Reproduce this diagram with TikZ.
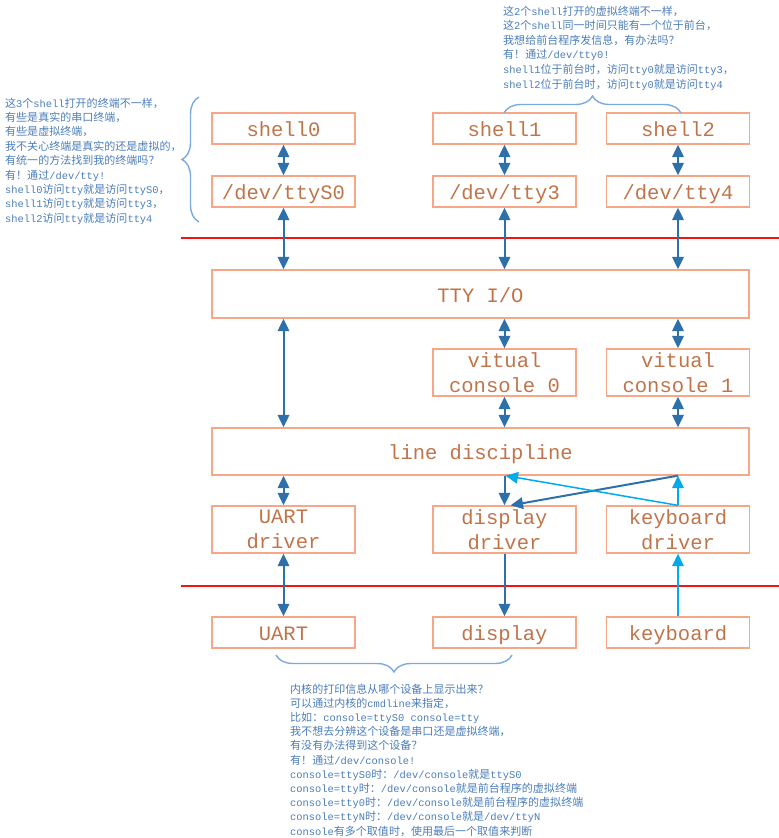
\documentclass[tikz,border=0pt]{standalone}
\usepackage{fontspec}
\setmainfont{Liberation Mono}
\newfontfamily\cjk{Noto Sans CJK SC}[Scale=1.06]
\newcommand\zh[1]{{\cjk #1}}
\usetikzlibrary{arrows.meta,decorations.pathreplacing}
\definecolor{boxline}{RGB}{247,166,135}
\definecolor{boxtext}{RGB}{192,116,74}
\definecolor{darkblue}{RGB}{46,112,170}
\definecolor{lightblue}{RGB}{0,170,235}
\definecolor{notetext}{RGB}{75,125,185}
\definecolor{bracecol}{RGB}{125,170,220}
\definecolor{sepred}{RGB}{245,20,20}
\tikzset{
  boxbase/.style={draw=boxline, line width=1.3pt, text=boxtext, inner sep=0pt,
    font=\fontsize{20.5}{25}\selectfont},
  boxone/.style={boxbase, minimum width=143pt, minimum height=31pt, text height=17pt, text depth=1pt},
  boxtwo/.style={boxbase, align=center, minimum width=143pt, minimum height=47pt},
  boxwide/.style={boxbase, minimum width=537pt, minimum height=47pt, text height=17pt, text depth=1pt},
  tip/.tip={Triangle[length=12.5pt,width=11.5pt]},
  darkline/.style={draw=darkblue, line width=2pt},
  lightline/.style={draw=lightblue, line width=1.5pt},
  both/.style={darkline, tip-tip},
  sepline/.style={draw=sepred, line width=1.1pt},
  bracestyle/.style={draw=bracecol, line width=1.4pt, decorate, decoration={brace, amplitude=17pt}},
  note/.style={anchor=base west, inner sep=0pt, text=notetext, font=\fontsize{10.4}{14.4}\selectfont}
}
\begin{document}
\begin{tikzpicture}[x=1pt,y=-1pt]
\useasboundingbox (0,0) rectangle (779,838);
% boxes
\node[boxone] (sh0) at (283.5,128.5) {shell0};
\node[boxone] (sh1) at (504.5,128.5) {shell1};
\node[boxone] (sh2) at (678,128.5) {shell2};
\node[boxone] (d0) at (283.5,191.5) {/dev/ttyS0};
\node[boxone] (d3) at (504.5,191.5) {/dev/tty3};
\node[boxone] (d4) at (678,191.5) {/dev/tty4};
\node[boxwide, minimum height=48pt] (tio) at (480.5,294) {TTY I/O};
\node[boxtwo] (vc0) at (504.5,372.5) {vitual\\console 0};
\node[boxtwo] (vc1) at (678,372.5) {vitual\\console 1};
\node[boxwide] (ld) at (480.5,451.5) {line discipline};
\node[boxtwo] (ud) at (283.5,529.5) {UART\\driver};
\node[boxtwo] (dd) at (504.5,529.5) {display\\driver};
\node[boxtwo] (kd) at (678,529.5) {keyboard\\driver};
\node[boxone] (u) at (283.5,632.5) {UART};
\node[boxone] (dp) at (504.5,632.5) {display};
\node[boxone] (kb) at (678,632.5) {keyboard};
% separators
\coordinate (r1a) at (181,238); \coordinate (r1b) at (779,238);
\coordinate (r2a) at (181,586); \coordinate (r2b) at (779,586);
\draw[sepline] (r1a) -- (r1b);
\draw[sepline] (r2a) -- (r2b);
% connectors
\draw[both] (sh0.south) -- (d0.north);
\draw[both] (sh1.south) -- (d3.north);
\draw[both] (sh2.south) -- (d4.north);
\draw[both] (d0.south) -- (d0.south |- tio.north);
\draw[both] (d3.south) -- (d3.south |- tio.north);
\draw[both] (d4.south) -- (d4.south |- tio.north);
\draw[both] (tio.south -| d0.south) -- (ld.north -| d0.south);
\draw[both] (tio.south -| vc0.north) -- (vc0.north);
\draw[both] (tio.south -| vc1.north) -- (vc1.north);
\draw[both] (vc0.south) -- (vc0.south |- ld.north);
\draw[both] (vc1.south) -- (vc1.south |- ld.north);
\draw[both] (ld.south -| ud.north) -- (ud.north);
\draw[both] (ud.south) -- (u.north);
\draw[darkline, -tip] (ld.south -| dd.north) -- (dd.north);
\draw[darkline, -tip] (ld.south -| kd.north) -- ([xshift=6pt]dd.north);
\draw[lightline, -tip] (kd.north) -- (ld.south -| kd.north);
\draw[lightline, -tip] (kd.north) -- ([xshift=1pt]ld.south -| dd.north);
\draw[darkline, -tip] (dd.south) -- (dp.north);
\draw[lightline, -tip] (kb.north) -- (kd.south);
% braces
\coordinate (bLa) at (199,222); \coordinate (bLb) at (199,97);
\coordinate (bTa) at (504,113); \coordinate (bTb) at (681,113);
\coordinate (bBa) at (512,655); \coordinate (bBb) at (276,655);
\draw[bracestyle] (bLa) -- (bLb);
\draw[bracestyle] (bTa) -- (bTb);
\draw[bracestyle] (bBa) -- (bBb);
% notes
\node[note] (noteL) at (5,107) {\vtop{\baselineskip=14.4pt\lineskiplimit=-20pt
\hbox{\zh{这}3\zh{个}shell\zh{打开的终端不一样，}}
\hbox{\zh{有些是真实的串口终端，}}
\hbox{\zh{有些是虚拟终端，}}
\hbox{\zh{我不关心终端是真实的还是虚拟的，}}
\hbox{\zh{有统一的方法找到我的终端吗？}}
\hbox{\zh{有！通过}/dev/tty!}
\hbox{shell0\zh{访问}tty\zh{就是访问}ttyS0\zh{，}}
\hbox{shell1\zh{访问}tty\zh{就是访问}tty3\zh{，}}
\hbox{shell2\zh{访问}tty\zh{就是访问}tty4}}};
\node[note] (noteT) at (503,15) {\vtop{\baselineskip=14.6pt\lineskiplimit=-20pt
\hbox{\zh{这}2\zh{个}shell\zh{打开的虚拟终端不一样，}}
\hbox{\zh{这}2\zh{个}shell\zh{同一时间只能有一个位于前台，}}
\hbox{\zh{我想给前台程序发信息，有办法吗？}}
\hbox{\zh{有！通过}/dev/tty0!}
\hbox{shell1\zh{位于前台时，访问}tty0\zh{就是访问}tty3\zh{，}}
\hbox{shell2\zh{位于前台时，访问}tty0\zh{就是访问}tty4}}};
\node[note] (noteB) at (290,693) {\vtop{\baselineskip=14.2pt\lineskiplimit=-20pt
\hbox{\zh{内核的打印信息从哪个设备上显示出来？}}
\hbox{\zh{可以通过内核的}cmdline\zh{来指定，}}
\hbox{\zh{比如：}console=ttyS0 console=tty}
\hbox{\zh{我不想去分辨这个设备是串口还是虚拟终端，}}
\hbox{\zh{有没有办法得到这个设备？}}
\hbox{\zh{有！通过}/dev/console!}
\hbox{console=ttyS0\zh{时：}/dev/console\zh{就是}ttyS0}
\hbox{console=tty\zh{时：}/dev/console\zh{就是前台程序的虚拟终端}}
\hbox{console=tty0\zh{时：}/dev/console\zh{就是前台程序的虚拟终端}}
\hbox{console=ttyN\zh{时：}/dev/console\zh{就是}/dev/ttyN}
\hbox{console\zh{有多个取值时，使用最后一个取值来判断}}}};
\end{tikzpicture}
\end{document}
